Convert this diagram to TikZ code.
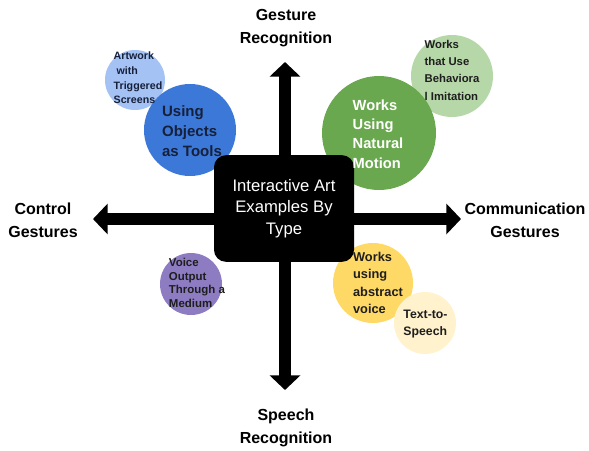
\documentclass[tikz,border=0pt]{standalone}
\usepackage{xcolor}
\usepackage{fontspec}
\setmainfont{Liberation Sans}
\usepackage{tikz}
\usetikzlibrary{arrows.meta}

\definecolor{skyblue}{HTML}{A4C2F4}
\definecolor{toolblue}{HTML}{3C78D8}
\definecolor{motiongreen}{HTML}{6AA84F}
\definecolor{palegreen}{HTML}{B6D7A8}
\definecolor{voicepurple}{HTML}{8E7CC3}
\definecolor{voiceyellow}{HTML}{FFD966}
\definecolor{cream}{HTML}{FFF2CC}
\definecolor{navyink}{HTML}{16203A}
\definecolor{darkink}{HTML}{1E1E1E}

\begin{document}
\begin{tikzpicture}[x=0.75pt, y=-0.75pt,
    bubble/.style={circle, draw=none, inner sep=0pt},
    bubtext/.style={align=left, inner sep=0pt, text=darkink},
    axis/.style={line width=8.5pt, -{Triangle[width=22.5pt, length=11pt]}},
    axislabel/.style={align=center, font=\bfseries\fontsize{12}{17}\selectfont}]
    \useasboundingbox (0,0) rectangle (589,450);

    % circles behind everything
    \node[bubble, fill=skyblue, minimum size=45pt] (artwork) at (135,80) {};
    \node[bubble, fill=toolblue, minimum size=69pt] (objects) at (190,130) {};
    \node[bubble, fill=palegreen, minimum size=61.5pt] (imitation) at (452,76) {};
    \node[bubble, fill=motiongreen, minimum size=85.5pt] (natural) at (379,133) {};
    \node[bubble, fill=voicepurple, minimum size=46.5pt] (medium) at (191,284) {};
    \node[bubble, fill=voiceyellow, minimum size=60pt] (abstract) at (373,283) {};
    \node[bubble, fill=cream, minimum size=46.5pt] (tts) at (425,323) {};

    % the two axes
    \coordinate (mid) at (285,219);
    \coordinate (uptip) at (285,62);
    \coordinate (downtip) at (285,390);
    \coordinate (lefttip) at (93,219);
    \coordinate (righttip) at (461,219);
    \draw[axis] (mid) -- (uptip);
    \draw[axis] (mid) -- (downtip);
    \draw[axis] (mid) -- (lefttip);
    \draw[axis] (mid) -- (righttip);

    \node[rectangle, rounded corners=9pt, fill=black, minimum width=105pt, minimum height=80pt,
          align=center, text=white, font=\fontsize{12.5}{16}\selectfont] (hub) at (284,208.5)
          {Interactive Art\\Examples By\\Type};

    \node[axislabel] (gesture) at (286,28) {Gesture\\Recognition};
    \node[axislabel] (speech) at (286,428) {Speech\\Recognition};
    \node[axislabel] (control) at (43,220) {Control\\Gestures};
    \node[axislabel] (communication) at (525,220) {Communication\\Gestures};

    % labels sit on top of the circles
    \node[bubtext, text=navyink, font=\bfseries\fontsize{8}{11}\selectfont] (artworklbl) at (138,78)
          {Artwork\\\hspace*{2.2pt}with\\Triggered\\Screens};
    \node[bubtext, text=navyink, font=\bfseries\fontsize{11.25}{14.8}\selectfont] (objectslbl) at (192,131)
          {Using\\Objects\\as Tools};
    \node[bubtext, font=\bfseries\fontsize{8.5}{13}\selectfont] (imitationlbl) at (452,70)
          {Works\\that Use\\Behaviora\\l Imitation};
    \node[bubtext, text=white, font=\bfseries\fontsize{11}{14.6}\selectfont] (naturallbl) at (378,134)
          {Works\\Using\\Natural\\Motion};
    \node[bubtext, font=\bfseries\fontsize{8.6}{10.1}\selectfont] (mediumlbl) at (197,283)
          {Voice\\Output\\Through a\\Medium};
    \node[bubtext, font=\bfseries\fontsize{9.6}{13}\selectfont] (abstractlbl) at (378,283)
          {Works\\using\\abstract\\voice};
    \node[bubtext, font=\bfseries\fontsize{9.2}{12.8}\selectfont] (ttslbl) at (425.5,324.5)
          {Text-to-\\Speech};
\end{tikzpicture}
\end{document}
